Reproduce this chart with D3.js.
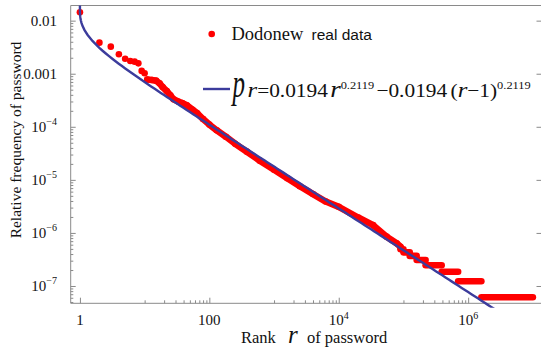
<!DOCTYPE html>
<html>
<head>
<meta charset="utf-8">
<script src="https://cdn.jsdelivr.net/npm/d3@7"></script>
<style>
  html, body { margin: 0; padding: 0; background: #fff; }
  svg { display: block; }
  text { font-family: "Liberation Serif", "Times New Roman", serif; fill: #111; }
</style>
</head>
<body>
<svg id="chart" width="541" height="351"></svg>
<script>
// Most frequent passwords, plotted one by one
const topRanks = [1, 2, 3, 4, 5, 6, 7, 8, 9, 10];
const topFreqs = [0.0144, 0.00385, 0.00324, 0.00233, 0.00192, 0.00174, 0.00169, 0.00157, 0.00113, 0.00102];

// Dense middle part of the rank-frequency curve
const bandRanks = [11, 13, 15, 17, 19, 22, 25, 28, 33, 38, 45, 55, 65, 80, 100, 130, 180, 250, 380,
                   600, 1000, 1600, 2500, 4000, 6300, 10000, 20000, 34000, 55000, 78500, 90000];
const bandFreqs = [7.8e-4, 7.6e-4, 7.4e-4, 6.6e-4, 5.6e-4, 4.7e-4, 3.9e-4, 3.3e-4, 3.0e-4, 2.8e-4, 2.55e-4,
                   2.1e-4, 1.8e-4, 1.4e-4, 1.1e-4, 8.6e-5, 6.5e-5, 4.8e-5, 3.4e-5,
                   2.3e-5, 1.55e-5, 1.07e-5, 7.6e-6, 5.4e-6, 3.9e-6, 3.1e-6, 1.95e-6, 1.4e-6, 8.5e-7, 6.4e-7, 5.5e-7];

// Tail: runs of passwords that share the same small count
const tailFreqs = [4.92e-7, 4.31e-7, 3.69e-7, 3.08e-7, 2.46e-7, 1.85e-7, 1.23e-7, 6.15e-8];
const tailStart = [9.0e4, 1.0e5, 1.25e5, 1.6e5, 2.2e5, 3.9e5, 7.0e5, 1.6e6];
const tailEnd   = [1.0e5, 1.25e5, 1.6e5, 2.2e5, 3.9e5, 7.0e5, 1.6e6, 1.0e7];

// Fitted model p_r = a r^b - a (r-1)^b
const fitA = 0.0194;
const fitB = 0.2119;

// Axis ticks and labels
const xMajor = [1, 100, 1e4, 1e6];
const xLabelBase = ["1", "100", "10", "10"];
const xLabelExp  = ["", "", "4", "6"];
const yMajor = [1e-2, 1e-3, 1e-4, 1e-5, 1e-6, 1e-7];
const yLabelBase = ["0.01", "0.001", "10", "10", "10", "10"];
const yLabelExp  = ["", "", "\u22124", "\u22125", "\u22126", "\u22127"];

const RED = "#ff0000";
const BLUE = "#3c3c9c";
const AXIS = "#8a8a8a";

const svg = d3.select("#chart");
const box = { l: 70.7, r: 541.5, t: 5.5, b: 303.3 };

const x = d3.scaleLog().domain([0.72, 1.36e7]).range([box.l, box.r]);
const y = d3.scaleLog().domain([4.72e-8, 0.0193]).range([box.b, box.t]);

// minor ticks: x in the odd decades, y in every decade
const xMinor = [];
[10, 1000, 1e5].forEach(d => { for (let k = 1; k <= 9; k++) xMinor.push(d * k); });
const yMinor = [];
for (let e = -8; e <= -2; e++) {
  for (let k = 2; k <= 9; k++) {
    const v = k * Math.pow(10, e);
    if (v >= y.domain()[0] && v <= y.domain()[1]) yMinor.push(v);
  }
}

// ---- ticks ----
function styleAxis(g) {
  g.select(".domain").remove();
  g.selectAll(".tick line").attr("stroke", AXIS).attr("stroke-width", 1);
  g.selectAll(".tick text").remove();
}
svg.append("g").attr("transform", `translate(0,${box.b})`)
  .call(d3.axisBottom(x).tickValues(xMajor).tickSize(-5.6).tickFormat(""))
  .call(styleAxis);
svg.append("g").attr("transform", `translate(0,${box.b})`)
  .call(d3.axisBottom(x).tickValues(xMinor).tickSize(-3).tickFormat(""))
  .call(styleAxis);
svg.append("g").attr("transform", `translate(${box.l},0)`)
  .call(d3.axisLeft(y).tickValues(yMajor).tickSize(-5).tickFormat(""))
  .call(styleAxis);
svg.append("g").attr("transform", `translate(${box.l},0)`)
  .call(d3.axisLeft(y).tickValues(yMinor).tickSize(-2.6).tickFormat(""))
  .call(styleAxis);
svg.append("g").attr("transform", `translate(${box.r},0)`)
  .call(d3.axisRight(y).tickValues(yMajor).tickSize(-5).tickFormat(""))
  .call(styleAxis);

// ---- frame ----
svg.append("path")
  .attr("d", `M${box.r},${box.t}H${box.l}V${box.b}H${box.r}`)
  .attr("fill", "none").attr("stroke", AXIS).attr("stroke-width", 1);

// ---- tick labels ----
xMajor.forEach((v, i) => {
  const t = svg.append("text").attr("x", x(v)).attr("y", 325)
    .attr("text-anchor", "middle").attr("font-size", 15).text(xLabelBase[i]);
  if (xLabelExp[i]) t.append("tspan").attr("dy", -6.5).attr("font-size", 10).text(xLabelExp[i]);
});
yMajor.forEach((v, i) => {
  const t = svg.append("text").attr("x", 57).attr("y", y(v) + 5)
    .attr("text-anchor", "end").attr("font-size", 15).text(yLabelBase[i]);
  if (yLabelExp[i]) t.append("tspan").attr("dy", -6.5).attr("font-size", 10).text(yLabelExp[i]);
});

// ---- axis titles ----
svg.append("text")
  .attr("transform", "translate(21,140) rotate(-90)")
  .attr("text-anchor", "middle").attr("font-size", 15.5)
  .text("Relative frequency of password");
svg.append("text").attr("x", 241).attr("y", 343).attr("font-size", 16.5).text("Rank");
svg.append("text").attr("x", 288).attr("y", 343).attr("font-size", 25)
  .attr("font-style", "italic").text("r");
svg.append("text").attr("x", 307).attr("y", 343).attr("font-size", 16.5).text("of password");

// ---- data ----
const dotR = 3.3;
const plot = svg.append("g");

// continuous band of ranked passwords
plot.append("path")
  .datum(bandRanks.map((r, i) => [r, bandFreqs[i]]))
  .attr("d", d3.line().x(d => x(d[0])).y(d => y(d[1])))
  .attr("fill", "none").attr("stroke", RED).attr("stroke-width", dotR * 2)
  .attr("stroke-linejoin", "round").attr("stroke-linecap", "round");

// runs of equal frequency in the tail
plot.selectAll("line.run")
  .data(tailFreqs.map((f, i) => ({ f, a: tailStart[i], b: tailEnd[i] })))
  .join("line").attr("class", "run")
  .attr("x1", d => x(d.a)).attr("x2", d => x(d.b))
  .attr("y1", d => y(d.f)).attr("y2", d => y(d.f))
  .attr("stroke", RED).attr("stroke-width", dotR * 2).attr("stroke-linecap", "round");

// individual points
plot.selectAll("circle.top")
  .data(topRanks.map((r, i) => [r, topFreqs[i]]).concat(bandRanks.map((r, i) => [r, bandFreqs[i]])))
  .join("circle").attr("class", "top")
  .attr("cx", d => x(d[0])).attr("cy", d => y(d[1])).attr("r", dotR).attr("fill", RED);

// ---- fitted curve ----
const fit = r => fitA * Math.pow(r, fitB) - fitA * Math.pow(r - 1, fitB);
const fitRanks = [1];
for (let e = -9; e < 0; e += 0.25) fitRanks.push(1 + Math.pow(10, e));
for (let e = 0.3; e <= 6.5; e += 0.05) fitRanks.push(Math.pow(10, e));

svg.append("clipPath").attr("id", "clipFit")
  .append("rect").attr("x", box.l).attr("y", 0).attr("width", box.r - box.l).attr("height", box.b + 4.5);

svg.append("path")
  .attr("clip-path", "url(#clipFit)")
  .datum(fitRanks.map(r => [r, fit(r)]))
  .attr("d", d3.line().x(d => x(d[0])).y(d => y(d[1])))
  .attr("fill", "none").attr("stroke", BLUE).attr("stroke-width", 2.4);

// ---- legend ----
const lg = svg.append("g");
lg.append("circle").attr("cx", 211.7).attr("cy", 34).attr("r", dotR).attr("fill", RED);
lg.append("text").attr("x", 231.5).attr("y", 40).attr("font-size", 18.5).text("Dodonew");
lg.append("text").attr("x", 311.5).attr("y", 40).attr("font-size", 15.5)
  .style("font-family", "'Liberation Sans', Arial, sans-serif").text("real data");

lg.append("line").attr("x1", 203).attr("x2", 230).attr("y1", 89).attr("y2", 89)
  .attr("stroke", BLUE).attr("stroke-width", 2.4);
// tall, narrow italic p of the model name
lg.append("text").attr("transform", "translate(232.5,97) scale(1,1.6)")
  .attr("font-size", 25).attr("font-style", "italic").text("p");

// the rest of the formula flows as one line, then is fitted to its slot
const formulaLeft = 247.5, formulaRight = 523;
const fg = lg.append("g");
const ft = fg.append("text").attr("x", 0).attr("y", 0).attr("font-size", 19);
ft.append("tspan").attr("font-style", "italic").attr("font-size", 22).text("r");
ft.append("tspan").text("=" + fitA);
ft.append("tspan").attr("dx", 2).attr("font-style", "italic").attr("font-size", 24).text("r");
ft.append("tspan").attr("dy", -8).attr("font-size", 11).text(String(fitB));
ft.append("tspan").attr("dy", 8).attr("dx", 2).text("\u2212" + fitA);
ft.append("tspan").attr("dx", 3).text("(");
ft.append("tspan").attr("font-style", "italic").attr("font-size", 22).text("r");
ft.append("tspan").text("\u22121)");
ft.append("tspan").attr("dy", -8).attr("font-size", 11).text(String(fitB));
const fw = ft.node().getComputedTextLength();
fg.attr("transform", `translate(${formulaLeft},97) scale(${(formulaRight - formulaLeft) / fw},1)`);
</script>
</body>
</html>
